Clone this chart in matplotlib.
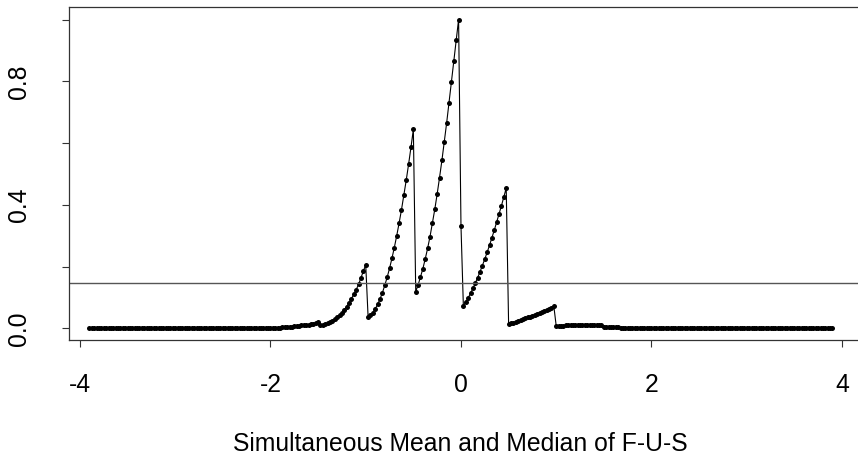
import numpy as np
import matplotlib
matplotlib.use("Agg")
import matplotlib.pyplot as plt

plt.rcParams['font.family'] = ['Liberation Sans', 'DejaVu Sans']

# x grid used for the evaluation (regular seq like in R)
x_start, x_stop, x_step = -3.9, 3.9, 0.025

# y values, piece by piece
tail_left = [
    0.0, 0.0, 0.0, 0.0, 0.0, 0.0, 0.0, 0.0, 0.0, 0.0, 0.0, 0.0, 0.0, 0.0, 0.0, 0.0,
    0.0, 0.0, 0.0, 0.0, 0.0, 0.0, 0.0, 0.0, 0.0, 0.0, 0.0, 0.0, 0.0, 0.0, 0.0, 0.0,
    0.0, 0.0, 0.0, 0.0, 0.0, 0.0, 0.0, 0.0, 0.0, 0.0, 0.0, 0.0, 0.0, 0.0, 0.0, 0.0,
    0.0, 0.0, 0.0, 0.0, 0.0, 0.0, 0.0, 0.0, 0.0, 0.0, 0.0, 0.0, 0.0, 0.0, 0.0, 0.0,
    0.0, 0.0, 0.0001, 0.0001, 0.0002, 0.0002, 0.0003, 0.0003, 0.0004, 0.0005, 0.0006,
    0.0007, 0.0008,
]
seg_m2 = [0.001, 0.001, 0.0015, 0.002, 0.0025, 0.003, 0.0035, 0.004, 0.005, 0.006,
          0.007, 0.008, 0.009, 0.010, 0.011, 0.012, 0.014, 0.015, 0.017, 0.019]
seg_m15 = [0.009, 0.010, 0.013, 0.016, 0.020, 0.024, 0.029, 0.035, 0.042, 0.050,
           0.059, 0.070, 0.083, 0.096, 0.110, 0.125, 0.142, 0.163, 0.185, 0.206]
seg_m1 = [0.036, 0.042, 0.051, 0.063, 0.077, 0.095, 0.115, 0.139, 0.165, 0.194,
          0.226, 0.261, 0.299, 0.340, 0.383, 0.430, 0.479, 0.531, 0.586, 0.644]
seg_m05 = [0.119, 0.140, 0.167, 0.193, 0.225, 0.259, 0.297, 0.340, 0.385, 0.435,
           0.488, 0.544, 0.604, 0.666, 0.731, 0.799, 0.866, 0.934, 1.000]
at_zero = [0.332]
seg_p0 = [0.073, 0.084, 0.098, 0.113, 0.129, 0.146, 0.164, 0.183, 0.203, 0.224,
          0.246, 0.269, 0.293, 0.318, 0.344, 0.370, 0.397, 0.425, 0.454]
seg_p05 = [0.014, 0.016, 0.018, 0.021, 0.023, 0.026, 0.029, 0.032, 0.035, 0.038,
           0.041, 0.044, 0.047, 0.050, 0.053, 0.056, 0.059, 0.063, 0.067, 0.071]
seg_p1 = [0.007, 0.0075, 0.008, 0.0085, 0.009, 0.009, 0.0095, 0.0095, 0.010, 0.010,
          0.010, 0.0105, 0.0105, 0.0105, 0.011, 0.011, 0.011, 0.011, 0.0115, 0.0115]
seg_p15 = [0.004, 0.0038, 0.0035, 0.0033, 0.003, 0.0028, 0.0026, 0.0024, 0.0022, 0.002,
           0.0018, 0.0016, 0.0015, 0.0013, 0.0012, 0.001, 0.0009, 0.0008, 0.0007, 0.0006]
tail_right = [
    0.0005, 0.0004, 0.0004, 0.0003, 0.0003, 0.0002, 0.0002, 0.0001, 0.0001, 0.0, 0.0,
    0.0, 0.0, 0.0, 0.0, 0.0, 0.0, 0.0, 0.0, 0.0, 0.0, 0.0, 0.0, 0.0, 0.0, 0.0, 0.0,
    0.0, 0.0, 0.0, 0.0, 0.0, 0.0, 0.0, 0.0, 0.0, 0.0, 0.0, 0.0, 0.0, 0.0, 0.0, 0.0,
    0.0, 0.0, 0.0, 0.0, 0.0, 0.0, 0.0, 0.0, 0.0, 0.0, 0.0, 0.0, 0.0, 0.0, 0.0, 0.0,
    0.0, 0.0, 0.0, 0.0, 0.0, 0.0, 0.0, 0.0, 0.0, 0.0, 0.0, 0.0, 0.0, 0.0, 0.0, 0.0,
    0.0, 0.0,
]
threshold = 0.148

xticks = [-4, -2, 0, 2, 4]
yticks = [0.0, 0.2, 0.4, 0.6, 0.8, 1.0]
yticklabels = ['0.0', '', '0.4', '', '0.8', '']
xlabel = 'Simultaneous Mean and Median of F-U-S'

y = np.array(tail_left + seg_m2 + seg_m15 + seg_m1 + seg_m05 + at_zero
             + seg_p0 + seg_p05 + seg_p1 + seg_p15 + tail_right)
x = np.round(np.arange(x_start, x_stop + 1e-9, x_step), 3)

W, H = 858, 473
fig = plt.figure(figsize=(W / 100, H / 100), dpi=100)
# plot box: left 69px, top 7px, bottom 340px, right runs past the image edge
ax = fig.add_axes([69 / W, (H - 340) / H, (866 - 69) / W, 333 / H])

ax.plot(x, y, '-', color='black', lw=0.8, marker='o', ms=3.6,
        mfc='black', mec='black', mew=0)
ax.axhline(threshold, color='#555555', lw=1.0)

ax.set_xlim(-4.115, 4.252)
ax.set_ylim(-0.038, 1.0405)
ax.set_xticks(xticks)
ax.set_xticklabels([str(t) for t in xticks])
ax.set_yticks(yticks)
ax.set_yticklabels(yticklabels, rotation=90, va='center')
ax.tick_params(direction='out', length=5, width=0.8, labelsize=17.8, color='#333333')
ax.tick_params(axis='x', pad=19)
ax.tick_params(axis='y', pad=22)
for s in ax.spines.values():
    s.set_color('#333333')
    s.set_linewidth(0.9)

fig.text(460.5 / W, 1 - 451 / H, xlabel, ha='center', va='baseline', fontsize=17.8)

fig.savefig('out.png', dpi=100)
